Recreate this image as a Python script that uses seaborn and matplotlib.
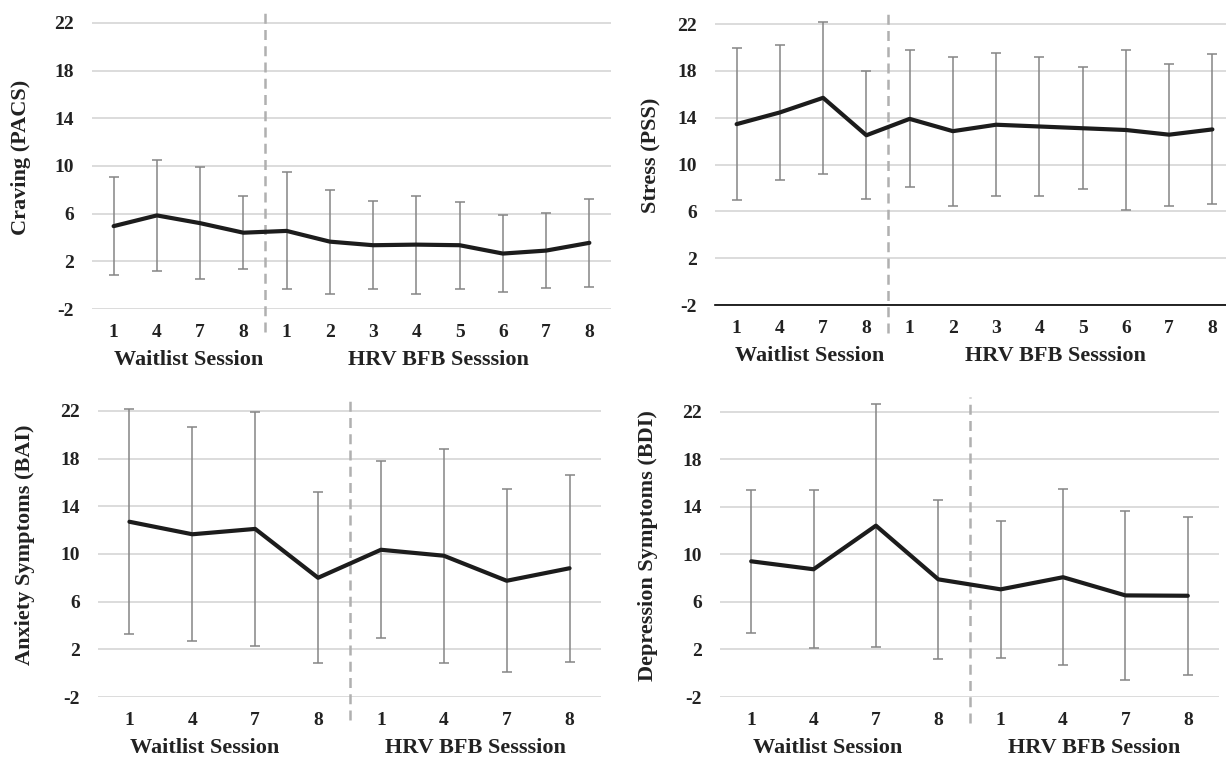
import numpy as np
import pandas as pd
import matplotlib
matplotlib.use("Agg")
import matplotlib.pyplot as plt
import seaborn as sns

# ---------------- data ----------------
sessions_12 = ["1", "4", "7", "8", "1", "2", "3", "4", "5", "6", "7", "8"]
sessions_8 = ["1", "4", "7", "8", "1", "4", "7", "8"]

craving_mean = [4.95, 5.85, 5.2, 4.4, 4.55, 3.65, 3.35, 3.4, 3.35, 2.65, 2.9, 3.55]
craving_sd = [4.1, 4.65, 4.7, 3.05, 4.9, 4.35, 3.7, 4.1, 3.65, 3.25, 3.15, 3.7]

stress_mean = [13.45, 14.45, 15.7, 12.5, 13.9, 12.85, 13.4, 13.25, 13.1, 12.95, 12.55, 13.0]
stress_sd = [6.5, 5.8, 6.5, 5.47, 5.86, 6.35, 6.12, 5.95, 5.2, 6.8, 6.07, 6.4]

anxiety_mean = [12.7, 11.65, 12.1, 8.0, 10.35, 9.85, 7.75, 8.8]
anxiety_sd = [9.44, 8.98, 9.79, 7.18, 7.41, 8.96, 7.68, 7.83]

depression_mean = [9.42, 8.75, 12.42, 7.9, 7.06, 8.08, 6.55, 6.52]
depression_sd = [6.03, 6.66, 10.24, 6.72, 5.75, 7.4, 7.12, 6.67]

y_ticks = [-2, 2, 6, 10, 14, 18, 22]

sns.set_theme(style="white")
plt.rcParams["font.family"] = ["Liberation Serif", "DejaVu Serif"]
plt.rcParams["font.weight"] = "bold"

W, H = 1226, 766
fig = plt.figure(figsize=(W / 100, H / 100), dpi=100)

def px_axes(left, right, top, bottom):
    return fig.add_axes([left / W, 1 - bottom / H, (right - left) / W, (bottom - top) / H])

panels = [
    dict(box=(92, 611, 5, 309), mean=craving_mean, sd=craving_sd, labels=sessions_12,
         ylabel="Craving (PACS)", g1=1.73, g2=7.5, g2txt="HRV BFB Sesssion",
         dash=(-0.076, 0.99), spine=False, ylx=21),
    dict(box=(715, 1234, 6.5, 305), mean=stress_mean, sd=stress_sd, labels=sessions_12,
         ylabel="Stress (PSS)", g1=1.69, g2=7.38, g2txt="HRV BFB Sesssion",
         dash=(-0.094, 0.99), spine=True, ylx=651),
    dict(box=(98, 601, 393, 697), mean=anxiety_mean, sd=anxiety_sd, labels=sessions_8,
         ylabel="Anxiety Symptoms (BAI)", g1=1.19, g2=5.5, g2txt="HRV BFB Sesssion",
         dash=(-0.076, 0.987), spine=False, ylx=25),
    dict(box=(720, 1219, 394, 697), mean=depression_mean, sd=depression_sd, labels=sessions_8,
         ylabel="Depression Symptoms (BDI)", g1=1.22, g2=5.5, g2txt="HRV BFB Session",
         dash=(-0.086, 0.99), spine=False, ylx=648),
]

TXT = "#222222"

for p in panels:
    left, right, top, bottom = p["box"]
    ax = px_axes(left, right, top, bottom)
    n = len(p["mean"])
    df = pd.DataFrame({"pos": np.arange(n), "mean": p["mean"], "sd": p["sd"]})

    ax.errorbar(df["pos"], df["mean"], yerr=df["sd"], fmt="none", ecolor="#858585",
                elinewidth=1.1, capsize=3.5, capthick=1.1, zorder=2)
    sns.lineplot(data=df, x="pos", y="mean", ax=ax, color="#1c1c1c", linewidth=3.0,
                 zorder=3, errorbar=None)

    ax.set_xlim(-0.5, n - 0.5)
    ax.set_ylim(-2, 23.5)
    ax.set_yticks(y_ticks)
    ax.set_yticklabels([str(t) for t in y_ticks], fontsize=14, fontweight="bold", color=TXT)
    ax.set_xticks(np.arange(n))
    ax.set_xticklabels(p["labels"], fontsize=14, fontweight="bold", color=TXT)
    ax.tick_params(axis="both", length=0)
    ax.tick_params(axis="y", pad=13)
    ax.tick_params(axis="x", pad=11)
    ax.grid(axis="y", color="#d9d9d9", linewidth=1.3)
    ax.grid(axis="x", visible=False)
    ax.set_axisbelow(True)
    for s in ["top", "right", "left"]:
        ax.spines[s].set_visible(False)
    if p["spine"]:
        ax.spines["bottom"].set_visible(True)
        ax.spines["bottom"].set_color("#000000")
        ax.spines["bottom"].set_linewidth(1.2)
    else:
        ax.spines["bottom"].set_visible(False)

    ax.set_xlabel("")
    ax.set_ylabel(p["ylabel"], fontsize=16, fontweight="bold", color=TXT,
                  va="center", ha="center")
    ax.yaxis.set_label_coords((p["ylx"] - left) / (right - left), 0.5)

    ax.axvline(3.5, ymin=p["dash"][0], ymax=p["dash"][1], color="#b0b0b0", linewidth=1.8,
               linestyle=(0, (4, 2.5)), clip_on=False, zorder=1)

    # group labels
    ylab_y = -51 / (bottom - top)
    ax.text(p["g1"], ylab_y, "Waitlist Session", transform=ax.get_xaxis_transform(),
            ha="center", va="center", fontsize=16, fontweight="bold", color=TXT)
    ax.text(p["g2"], ylab_y, p["g2txt"], transform=ax.get_xaxis_transform(),
            ha="center", va="center", fontsize=16, fontweight="bold", color=TXT)

fig.savefig("out.png", dpi=100)
